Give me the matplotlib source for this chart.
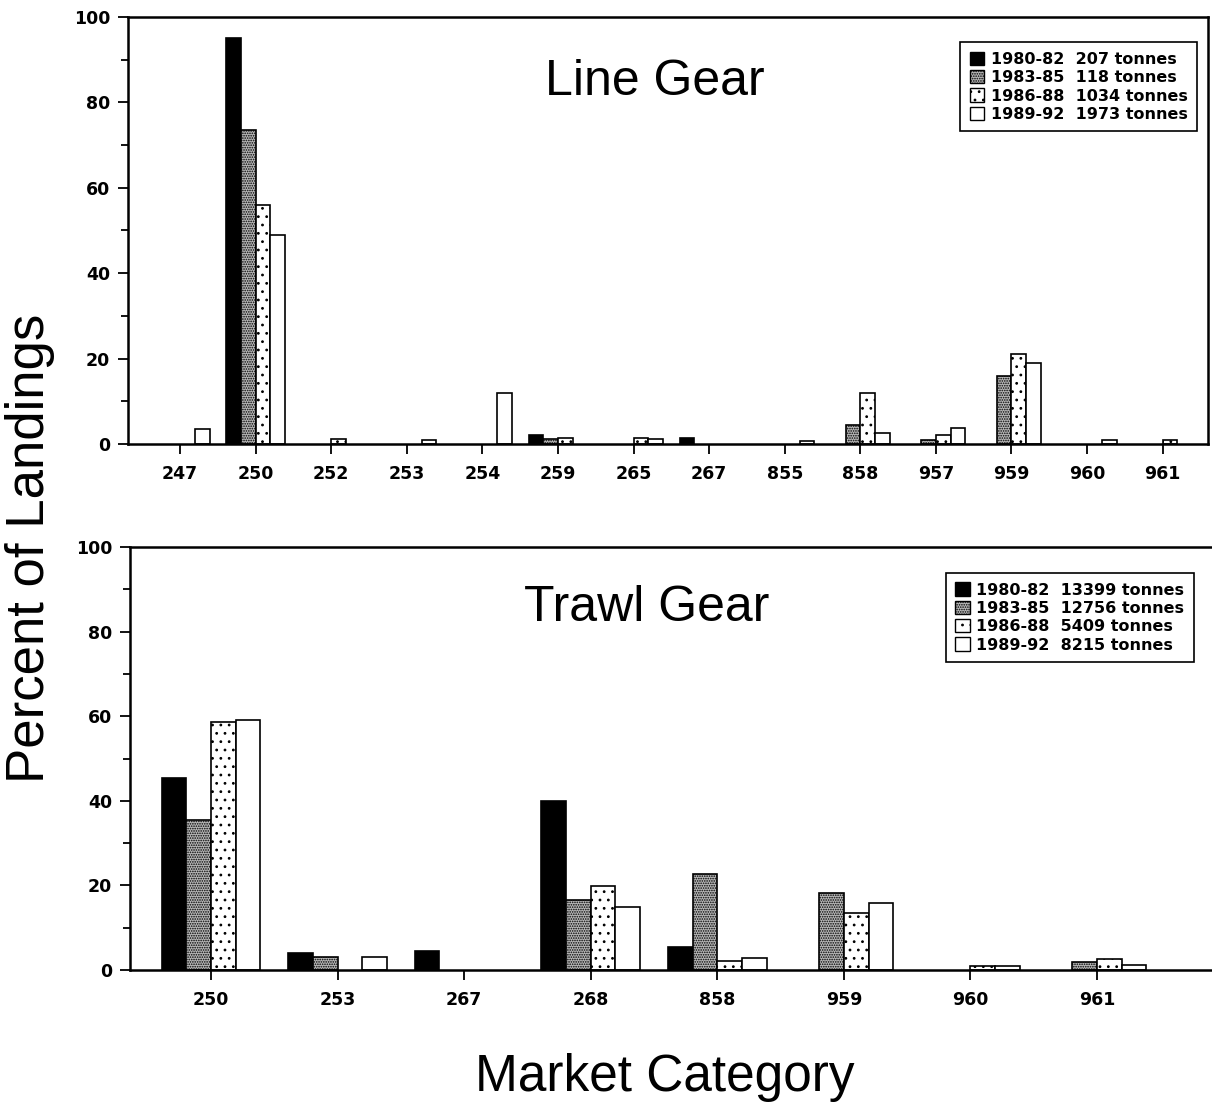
import numpy as np
import matplotlib.pyplot as plt
from matplotlib.patches import Patch

plt.rcParams['hatch.linewidth'] = 0.8

# Datos: panel superior (Line Gear)
line_cats = ['247', '250', '252', '253', '254', '259', '265', '267', '855', '858', '957', '959', '960', '961']
line_8082 = [0, 95, 0, 0, 0, 2, 0, 1.5, 0, 0, 0, 0, 0, 0]
line_8385 = [0, 73.5, 0, 0, 0, 1.2, 0, 0, 0, 4.5, 1.0, 16, 0, 0]
line_8688 = [0, 56, 1.2, 0, 0, 1.5, 1.5, 0, 0, 12, 2.2, 21, 0, 1]
line_8992 = [3.5, 49, 0, 1, 12, 0, 1.2, 0, 0.8, 2.5, 3.8, 19, 1, 0]
line_labels = ['1980-82  207 tonnes', '1983-85  118 tonnes',
               '1986-88  1034 tonnes', '1989-92  1973 tonnes']

# Datos: panel inferior (Trawl Gear)
trawl_cats = ['250', '253', '267', '268', '858', '959', '960', '961']
trawl_8082 = [45.3, 4, 4.5, 40, 5.5, 0, 0, 0]
trawl_8385 = [35.5, 3, 0, 16.5, 22.7, 18.2, 0, 2]
trawl_8688 = [58.7, 0, 0, 19.8, 2.2, 13.5, 1, 2.5]
trawl_8992 = [59, 3, 0, 14.8, 2.8, 15.8, 1, 1.2]
trawl_labels = ['1980-82  13399 tonnes', '1983-85  12756 tonnes',
                '1986-88  5409 tonnes', '1989-92  8215 tonnes']

# Estilos de las series (negro, gris punteado fino, puntos, blanco)
styles = [dict(facecolor='black', hatch=None),
          dict(facecolor='#b8b8b8', hatch='.......'),
          dict(facecolor='white', hatch='..'),
          dict(facecolor='white', hatch=None)]

fig = plt.figure(figsize=(12.12, 11.2), dpi=100)
ax1 = fig.add_axes([128 / 1212, 1 - 444 / 1120, 1080 / 1212, 427 / 1120])
ax2 = fig.add_axes([130 / 1212, 1 - 970 / 1120, 1081 / 1212, 423 / 1120])

w = 0.195


def draw_panel(ax, cats, series, labels, xlim, title, title_pos, leg_anchor):
    x = np.arange(len(cats))
    for i, (vals, st) in enumerate(zip(series, styles)):
        vals = np.array(vals, dtype=float)
        # las barras con valor cero no se dibujan
        lw = np.where(vals > 0, 1.2, 0)
        ax.bar(x + (i - 1.5) * w, vals, w, facecolor=st['facecolor'], hatch=st['hatch'],
               edgecolor='black', linewidth=lw, align='center')
    ax.set_xlim(*xlim)
    ax.set_ylim(0, 100)
    ax.set_xticks(x)
    ax.set_xticklabels(cats)
    ax.set_yticks(np.arange(0, 101, 20))
    ax.set_yticks(np.arange(0, 101, 10), minor=True)
    ax.tick_params(axis='both', which='both', direction='out', width=1.3)
    ax.tick_params(axis='x', length=7, pad=8)
    ax.tick_params(axis='y', which='major', length=7, pad=6)
    ax.tick_params(axis='y', which='minor', length=5)
    for lab in ax.get_xticklabels() + ax.get_yticklabels():
        lab.set_fontsize(12.5)
        lab.set_fontweight('bold')
    for sp in ax.spines.values():
        sp.set_linewidth(1.8)
    ax.text(title_pos[0], title_pos[1], title, transform=ax.transAxes,
            ha='center', va='center', fontsize=36, family='Liberation Sans')
    handles = [Patch(facecolor=st['facecolor'], hatch=st['hatch'], edgecolor='black', linewidth=1)
               for st in styles]
    leg = ax.legend(handles, labels, loc='upper right', bbox_to_anchor=leg_anchor,
                    fancybox=False, edgecolor='black', framealpha=1,
                    handlelength=0.9, handleheight=0.9, handletextpad=0.4,
                    labelspacing=0.2, borderpad=0.6, borderaxespad=0,
                    prop=dict(size=11.5, weight='bold'))
    leg.get_frame().set_linewidth(1.2)


draw_panel(ax1, line_cats, [line_8082, line_8385, line_8688, line_8992], line_labels,
           (-0.69, 13.6), 'Line Gear', (0.488, 0.848), (0.99, 0.941))
draw_panel(ax2, trawl_cats, [trawl_8082, trawl_8385, trawl_8688, trawl_8992], trawl_labels,
           (-0.64, 7.9), 'Trawl Gear', (0.478, 0.856), (0.984, 0.939))
ax2.spines['right'].set_visible(False)

fig.text(30 / 1212, 1 - 548 / 1120, 'Percent of Landings', rotation=90,
         ha='center', va='center', fontsize=38, family='Liberation Sans')
fig.text(665 / 1212, 1 - 1078 / 1120, 'Market Category',
         ha='center', va='center', fontsize=37, family='Liberation Sans')

fig.savefig('out.png', dpi=100)
